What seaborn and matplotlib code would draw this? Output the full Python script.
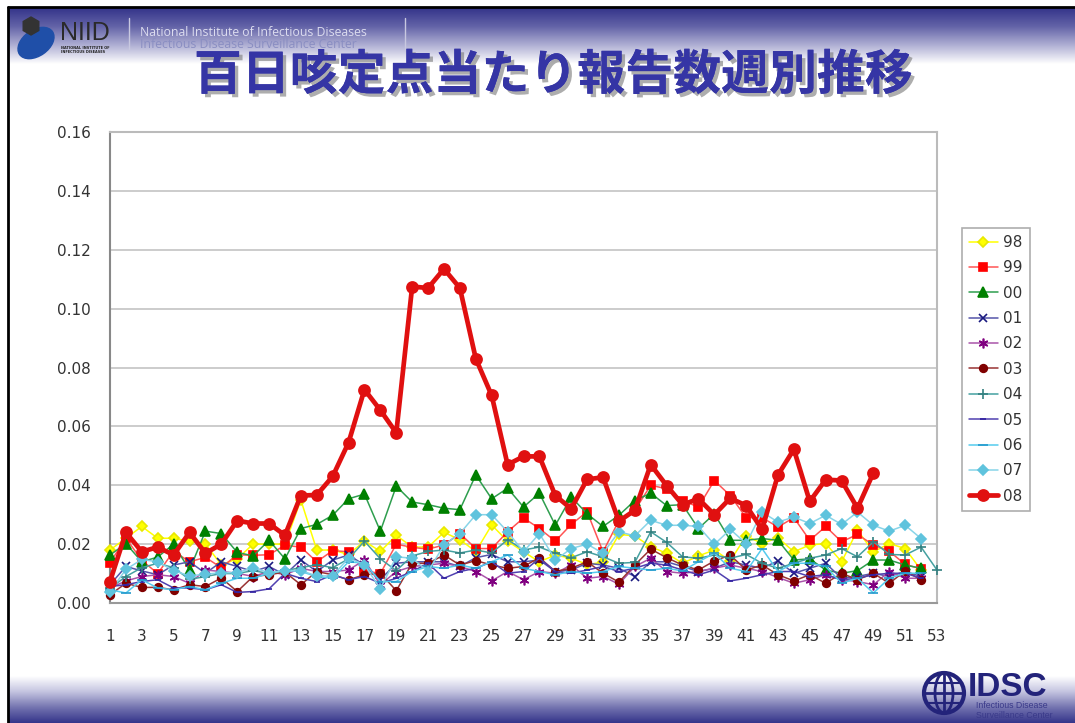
import numpy as np
import pandas as pd
import matplotlib
matplotlib.use("Agg")
import matplotlib.pyplot as plt
import seaborn as sns
from matplotlib import patheffects as pe
from matplotlib.patches import Circle, Ellipse, RegularPolygon
from matplotlib.colors import LinearSegmentedColormap

# ---------------- data ----------------
weeks = list(range(1, 54))
x_tick_labels = [str(w) for w in range(1, 54, 2)]
y_ticks = [0.00, 0.02, 0.04, 0.06, 0.08, 0.10, 0.12, 0.14, 0.16]
series_names = ["98", "99", "00", "01", "02", "03", "04", "05", "06", "07", "08"]

s98 = [0.018, 0.022, 0.026, 0.022, 0.022, 0.021, 0.020, 0.013, 0.015, 0.020,
       0.020, 0.020, 0.035, 0.018, 0.018, 0.0165, 0.021, 0.0175, 0.023, 0.019,
       0.019, 0.024, 0.0215, 0.0175, 0.0265, 0.021, 0.0174, 0.014, 0.0163, 0.0152,
       0.0131, 0.0138, 0.0233, 0.0228, 0.0191, 0.0169, 0.0135, 0.016, 0.018, 0.0143,
       0.0228, 0.0202, 0.0222, 0.0174, 0.0197, 0.0202, 0.014, 0.0247, 0.0174, 0.0202,
       0.0185, 0.0112]
s99 = [0.0137, 0.022, 0.0145, 0.010, 0.0176, 0.014, 0.0155, 0.012, 0.0164, 0.0162,
       0.0164, 0.0196, 0.019, 0.014, 0.0178, 0.0174, 0.011, 0.010, 0.020, 0.0189,
       0.0183, 0.0197, 0.0236, 0.0185, 0.0185, 0.0242, 0.0289, 0.0253, 0.021, 0.0267,
       0.031, 0.0174, 0.028, 0.0315, 0.040, 0.0388, 0.0348, 0.0326, 0.0416, 0.0365,
       0.029, 0.029, 0.0258, 0.029, 0.0213, 0.026, 0.0208, 0.0233, 0.0197, 0.0176,
       0.0131, 0.0116]
s00 = [0.0163, 0.0202, 0.014, 0.0156, 0.020, 0.0112, 0.0244, 0.0236, 0.0172, 0.016,
       0.0213, 0.015, 0.0253, 0.0267, 0.0298, 0.0354, 0.037, 0.0244, 0.0397, 0.0343,
       0.0334, 0.0322, 0.0317, 0.0435, 0.0354, 0.039, 0.0326, 0.0373, 0.0264, 0.036,
       0.0303, 0.026, 0.0298, 0.0348, 0.0373, 0.0331, 0.0334, 0.0253, 0.0303, 0.0213,
       0.0213, 0.0219, 0.0213, 0.0146, 0.015, 0.0112, 0.0101, 0.011, 0.0146, 0.0146,
       0.0129, 0.0118]
s01 = [0.0062, 0.0124, 0.0109, 0.0096, 0.0129, 0.014, 0.0101, 0.014, 0.0124, 0.0107,
       0.0124, 0.0096, 0.0146, 0.0107, 0.0146, 0.0163, 0.0129, 0.0079, 0.0135, 0.014,
       0.014, 0.014, 0.0124, 0.0154, 0.0165, 0.014, 0.014, 0.0146, 0.0107, 0.0112,
       0.0135, 0.0129, 0.0118, 0.009, 0.014, 0.014, 0.0124, 0.0107, 0.0118, 0.014,
       0.0129, 0.0118, 0.0143, 0.0101, 0.0118, 0.0135, 0.0084, 0.009, 0.0101, 0.009,
       0.0107, 0.009]
s02 = [0.0051, 0.0075, 0.009, 0.0096, 0.009, 0.0067, 0.0112, 0.0107, 0.0101, 0.009,
       0.0107, 0.0096, 0.0118, 0.0107, 0.0107, 0.0112, 0.0146, 0.0062, 0.0107, 0.0124,
       0.0129, 0.0135, 0.0124, 0.0107, 0.0075, 0.0107, 0.0079, 0.0107, 0.0101, 0.0129,
       0.0084, 0.009, 0.0064, 0.0124, 0.0152, 0.0107, 0.0101, 0.0107, 0.0118, 0.0129,
       0.0118, 0.0107, 0.0087, 0.0067, 0.0079, 0.0096, 0.0079, 0.0073, 0.0062, 0.0107,
       0.0084, 0.0084]
s03 = [0.0028, 0.0067, 0.0053, 0.0053, 0.0045, 0.0062, 0.0056, 0.0085, 0.0039, 0.009,
       0.0096, 0.0105, 0.0062, 0.0107, 0.0096, 0.0079, 0.0096, 0.0101, 0.0042, 0.0135,
       0.0135, 0.0163, 0.0129, 0.0144, 0.0129, 0.0118, 0.0124, 0.0154, 0.0107, 0.0118,
       0.014, 0.0101, 0.0071, 0.0129, 0.0183, 0.0154, 0.0129, 0.0112, 0.0143, 0.0163,
       0.0112, 0.0129, 0.0096, 0.0075, 0.0096, 0.0067, 0.0101, 0.0079, 0.0101, 0.0067,
       0.0109, 0.0079]
s04 = [0.005, 0.009, 0.012, 0.0135, 0.012, 0.008, 0.009, 0.010, 0.010, 0.011,
       0.010, 0.011, 0.012, 0.013, 0.012, 0.015, 0.021, 0.015, 0.011, 0.016,
       0.0175, 0.018, 0.017, 0.018, 0.017, 0.0215, 0.018, 0.019, 0.0169, 0.0154,
       0.0174, 0.0157, 0.0135, 0.0138, 0.0242, 0.0206, 0.0157, 0.0152, 0.0163, 0.0152,
       0.0165, 0.0135, 0.0118, 0.0135, 0.0152, 0.0163, 0.0185, 0.0157, 0.0208, 0.0165,
       0.0163, 0.019, 0.0112]
s05 = [0.0056, 0.0062, 0.0073, 0.0079, 0.0051, 0.0051, 0.0045, 0.0062, 0.0036, 0.0039,
       0.0048, 0.0101, 0.0084, 0.0073, 0.0096, 0.0079, 0.009, 0.0067, 0.0084, 0.0107,
       0.0135, 0.0084, 0.0107, 0.0118, 0.014, 0.0101, 0.0107, 0.0152, 0.0107, 0.0101,
       0.0112, 0.0124, 0.0107, 0.0118, 0.0135, 0.0129, 0.0112, 0.0096, 0.0112, 0.0075,
       0.0084, 0.0096, 0.0107, 0.0107, 0.009, 0.0096, 0.0079, 0.0084, 0.0096, 0.0101,
       0.0101, 0.0084]
s06 = [0.0045, 0.0034, 0.0079, 0.0051, 0.0045, 0.0056, 0.0045, 0.0067, 0.0084, 0.0084,
       0.0101, 0.0112, 0.0107, 0.009, 0.0084, 0.014, 0.0135, 0.0073, 0.0073, 0.0107,
       0.0124, 0.0118, 0.0129, 0.0118, 0.014, 0.0163, 0.0118, 0.0107, 0.0096, 0.0107,
       0.0101, 0.0107, 0.0124, 0.0118, 0.0112, 0.0118, 0.0109, 0.014, 0.0169, 0.0118,
       0.0107, 0.0185, 0.0107, 0.0135, 0.0135, 0.0124, 0.0067, 0.0084, 0.0034, 0.0084,
       0.0101, 0.0101]
s07 = [0.0039, 0.0114, 0.0148, 0.014, 0.011, 0.0092, 0.0098, 0.0103, 0.0103, 0.012,
       0.0103, 0.011, 0.011, 0.0092, 0.0092, 0.0153, 0.013, 0.0048, 0.0157, 0.0152,
       0.0107, 0.0197, 0.0236, 0.030, 0.030, 0.0242, 0.0174, 0.0236, 0.0146, 0.0185,
       0.020, 0.0169, 0.0242, 0.0228, 0.0281, 0.0264, 0.0264, 0.026, 0.0199, 0.025,
       0.0202, 0.0309, 0.0275, 0.0292, 0.027, 0.0298, 0.0267, 0.0309, 0.0264, 0.0244,
       0.0264, 0.0219]
s08 = [0.0073, 0.024, 0.0174, 0.019, 0.0163, 0.024, 0.0169, 0.020, 0.028, 0.027,
       0.027, 0.023, 0.0365, 0.0367, 0.043, 0.0545, 0.0725, 0.0655, 0.0578, 0.1075,
       0.107, 0.1135, 0.107, 0.083, 0.0705, 0.047, 0.0498, 0.0498, 0.0365, 0.032,
       0.042, 0.0427, 0.0278, 0.0315, 0.047, 0.0399, 0.0334, 0.0354, 0.030, 0.0356,
       0.0331, 0.025, 0.0435, 0.0522, 0.0345, 0.0419, 0.0416, 0.0322, 0.0442]

all_series = [s98, s99, s00, s01, s02, s03, s04, s05, s06, s07, s08]

# long table built from the arrays
rows = []
for name, vals in zip(series_names, all_series):
    for w, v in zip(weeks, vals):
        rows.append({"week": w, "value": v, "year": name})
df = pd.DataFrame(rows)

# ---------------- styles ----------------
styles = {
    "98": dict(color="#FFFF00", marker="D", ms=5, mfc="#FFFF00", mec="#E8E800", lw=1.1),
    "99": dict(color="#FF5555", marker="s", ms=6, mfc="#FF0000", mec="#FF0000", lw=1.1),
    "00": dict(color="#2E9E4E", marker="^", ms=6.5, mfc="#008000", mec="#008000", lw=1.1),
    "01": dict(color="#5555AA", marker="x", ms=6, mfc="#1A1A80", mec="#1A1A80", lw=1.1),
    "02": dict(color="#AA55AA", marker=(6, 2, 0), ms=7, mfc="#800080", mec="#800080", lw=1.1),
    "03": dict(color="#993333", marker="o", ms=5.5, mfc="#800000", mec="#800000", lw=1.1),
    "04": dict(color="#44A0A0", marker="+", ms=7, mfc="#338080", mec="#338080", lw=1.1),
    "05": dict(color="#5040B0", marker="_", ms=5, mfc="#3020A0", mec="#3020A0", lw=1.1),
    "06": dict(color="#55CCEE", marker="_", ms=7, mfc="#2299CC", mec="#2299CC", lw=1.1),
    "07": dict(color="#88D4E8", marker="D", ms=5, mfc="#5FC3DD", mec="#5FC3DD", lw=1.1),
    "08": dict(color="#E01010", marker="o", ms=8, mfc="#E01010", mec="#E01010", lw=3.4),
}

sns.set_theme(style="white")
plt.rcParams["font.family"] = ["DejaVu Sans", "Noto Sans CJK JP"]

fig = plt.figure(figsize=(10.75, 7.23), dpi=100)
fig.patch.set_facecolor("white")

# ---------------- slide background ----------------
bg = fig.add_axes([0, 0, 1, 1], zorder=-10)
bg.set_xlim(0, 1075)
bg.set_ylim(723, 0)
bg.axis("off")

head_cmap = LinearSegmentedColormap.from_list(
    "head", ["#34348a", "#6464a8", "#b0b0d4", "#ffffff"])
grad = np.linspace(0, 1, 256).reshape(-1, 1)
bg.imshow(grad, cmap=head_cmap, aspect="auto", extent=(8, 1075, 64, 8),
          interpolation="bilinear")
foot_cmap = LinearSegmentedColormap.from_list(
    "foot", ["#ffffff", "#c4c4e0", "#7474b0", "#34348a"])
bg.imshow(grad, cmap=foot_cmap, aspect="auto", extent=(8, 1075, 723, 676),
          interpolation="bilinear")
bg.plot([8, 1075], [7, 7], color="black", lw=2)
bg.plot([8, 8], [7, 723], color="black", lw=2)

# NIID logo
bg.add_patch(Ellipse((36, 43), 40, 26, angle=-35, color="#1f4fa8"))
bg.add_patch(RegularPolygon((31, 26), numVertices=6, radius=9, color="#333333"))
bg.text(60, 33, "NIID", fontsize=18, color="#2a2a2a", va="center", ha="left",
        family="Liberation Sans")
bg.text(61, 50, "NATIONAL INSTITUTE OF\nINFECTIOUS DISEASES", fontsize=2.5,
        color="#222222", va="center", ha="left", linespacing=1.1, fontweight="bold")
bg.plot([129, 129], [18, 50], color="#c8c8e0", lw=1)
bg.plot([405, 405], [18, 50], color="#c8c8e0", lw=1)
bg.text(140, 32, "National Institute of Infectious Diseases", fontsize=8.8,
        color="#dcdcef", va="center", ha="left", family="Open Sans")
bg.text(140, 45, "Infectious Disease Surveillance Center", fontsize=8.8,
        color="#8a8ec2", va="center", ha="left", family="Open Sans")

# title
fig.text(553 / 1075, 1 - 75 / 723, "百日咳定点当たり報告数週別推移",
         ha="center", va="center", fontsize=34.5, fontweight="bold",
         color="#3535a5", family=["Noto Sans CJK JP"],
         path_effects=[pe.withSimplePatchShadow(offset=(2.5, -2.5),
                                                shadow_rgbFace="#777777", alpha=0.6),
                       pe.Normal()])

# IDSC logo
bg.add_patch(Circle((944, 693), 20, fill=False, ec="#23237a", lw=3))
bg.add_patch(Ellipse((944, 693), 18, 40, fill=False, ec="#23237a", lw=2))
bg.plot([924, 964], [693, 693], color="#23237a", lw=2)
bg.plot([944, 944], [673, 713], color="#23237a", lw=2)
bg.plot([927, 961], [683, 683], color="#23237a", lw=1.5)
bg.plot([927, 961], [703, 703], color="#23237a", lw=1.5)
bg.text(968, 687, "IDSC", fontsize=24, fontweight="bold", color="#23237a",
        va="center", ha="left", family="Liberation Sans")
bg.text(976, 706, "Infectious Disease", fontsize=6.3, color="#3a3a8a",
        va="center", ha="left", family="Liberation Sans")
bg.text(976, 715, "Surveillance Center", fontsize=6.3, color="#3a3a8a",
        va="center", ha="left", family="Liberation Sans")

# ---------------- chart ----------------
ax = fig.add_axes([110 / 1075, 1 - 603 / 723, 827 / 1075, 471 / 723], zorder=1)
ax.set_facecolor("white")

for name in series_names:
    st = styles[name]
    sub = df[df["year"] == name]
    sns.lineplot(data=sub, x="week", y="value", ax=ax, label=name,
                 color=st["color"], linewidth=st["lw"], marker=st["marker"],
                 markersize=st["ms"], markerfacecolor=st["mfc"],
                 markeredgecolor=st["mec"], markeredgewidth=1.2,
                 zorder=5 if name == "08" else 3)

for ln in ax.get_lines():
    ln.set_clip_on(False)

ax.set_xlim(1, 53)
ax.set_ylim(0, 0.16)
ax.set_yticks(y_ticks)
ax.set_yticklabels([f"{v:.2f}" for v in y_ticks])
ax.set_xticks(weeks, minor=True)
ax.set_xticks(list(range(1, 54, 2)))
ax.set_xticklabels(x_tick_labels)
ax.set_xlabel("")
ax.set_ylabel("")
ax.yaxis.grid(True, color="#c8c8c8", lw=1.3)
ax.xaxis.grid(False)
ax.set_axisbelow(True)
ax.tick_params(axis="x", which="both", direction="out", length=5, width=1,
               color="#999999", labelsize=11, labelcolor="#333333", pad=14)
ax.tick_params(axis="y", which="both", length=0, labelsize=11,
               labelcolor="#333333", pad=14)
for side, c in [("left", "#888888"), ("bottom", "#999999"),
                ("top", "#bbbbbb"), ("right", "#bbbbbb")]:
    ax.spines[side].set_visible(True)
    ax.spines[side].set_color(c)
    ax.spines[side].set_linewidth(1.5)

leg = ax.legend(loc="upper left", bbox_to_anchor=(962 / 1075, 1 - 228 / 723),
                bbox_transform=fig.transFigure, frameon=True, fancybox=False,
                edgecolor="#999999", fontsize=11, handlelength=1.9,
                labelspacing=0.68, borderpad=0.45, handletextpad=0.35,
                borderaxespad=0)
leg.get_frame().set_linewidth(1.2)
for t in leg.get_texts():
    t.set_color("#333333")

fig.savefig("out.png", dpi=100)
